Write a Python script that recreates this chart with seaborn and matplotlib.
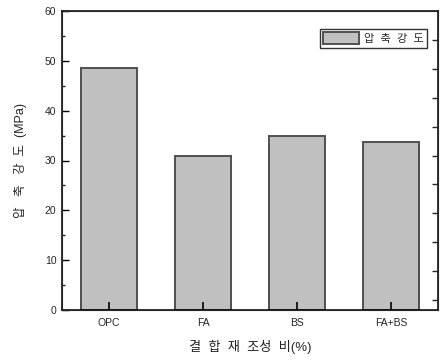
import numpy as np
import pandas as pd
import matplotlib
matplotlib.use("Agg")
import matplotlib.pyplot as plt
import seaborn as sns

# Compressive strength by binder composition
categories = ["OPC", "FA", "BS", "FA+BS"]
strength = [48.6, 31.0, 35.0, 33.7]
y_ticks = [0, 10, 20, 30, 40, 50, 60]

sns.set_style("ticks")
plt.rcParams["font.family"] = ["Liberation Sans", "Noto Sans CJK KR", "DejaVu Sans"]

df = pd.DataFrame({"binder": categories, "strength": strength})

fig = plt.figure(figsize=(4.40, 3.63), dpi=100)
ax = fig.add_axes([62 / 440, 53 / 363, 376 / 440, 299 / 363])

sns.barplot(data=df, x="binder", y="strength", ax=ax, color="#c0c0c0",
            saturation=1, width=0.6, edgecolor="#505050", linewidth=1.4,
            label="압 축 강 도")
# keep the inward category ticks visible on top of the bars
for p in ax.patches:
    p.set_zorder(0.5)
ax.xaxis.set_zorder(5)
ax.yaxis.set_zorder(5)

ax.set_xlim(-0.5, 3.5)
ax.set_ylim(0, 60)
ax.set_yticks(y_ticks)
ax.set_yticks(np.arange(5, 60, 10), minor=True)
ax.tick_params(axis="both", which="major", direction="in", length=5, width=1,
               labelsize=7.5, color="black", pad=4)
ax.tick_params(axis="y", which="minor", direction="in", length=2.5, width=1)
ax.tick_params(axis="x", which="major", bottom=True, top=False, length=6,
               width=1.2, pad=6)

for side in ["left", "right", "top", "bottom"]:
    ax.spines[side].set_visible(True)
    ax.spines[side].set_color("black")
    ax.spines[side].set_linewidth(1.1)
    ax.spines[side].set_zorder(5)

# opposite axis with its own inward ticks, no labels
ax2 = ax.twinx()
ax2.set_ylim(0, 60)
ax2.set_yticks(np.arange(2.0, 58, 5.8))
ax2.tick_params(axis="y", direction="in", length=4, width=1, labelright=False)

ax.set_xlabel("결  합  재  조성  비(%)", fontsize=9.5, labelpad=8)
ax.set_ylabel("압   축   강  도  (MPa)", fontsize=9, labelpad=13)

leg = ax.legend(loc="upper right", bbox_to_anchor=(0.972, 0.94), fontsize=8,
                frameon=True, fancybox=False, handlelength=3.2, handleheight=1.3,
                borderpad=0.3, handletextpad=0.5, borderaxespad=0)
leg.get_frame().set_edgecolor("black")
leg.get_frame().set_linewidth(1.0)
for t in leg.get_texts():
    t.set_text("압  축  강  도")

fig.savefig("out.png", dpi=100)
